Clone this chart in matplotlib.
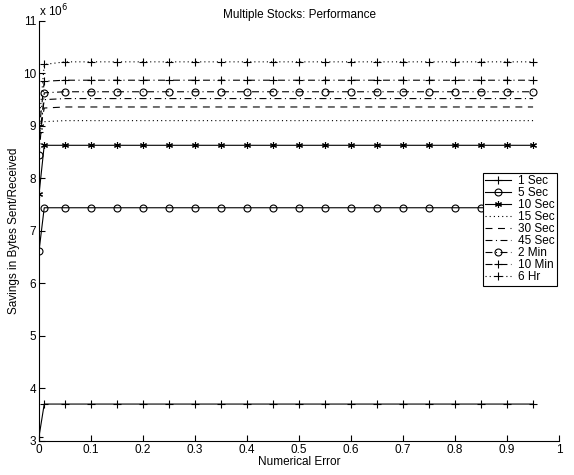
import matplotlib
matplotlib.use('Agg')
import matplotlib.pyplot as plt

plt.rcParams['font.family'] = ['Liberation Sans', 'DejaVu Sans']
plt.rcParams['lines.scale_dashes'] = False

# numerical error values (x axis)
errors = [0, 0.01, 0.05, 0.1, 0.15, 0.2, 0.25, 0.3, 0.35, 0.4, 0.45,
          0.5, 0.55, 0.6, 0.65, 0.7, 0.75, 0.8, 0.85, 0.9, 0.95]

labels = ['1 Sec', '5 Sec', '10 Sec', '15 Sec', '30 Sec', '45 Sec',
          '2 Min', '10 Min', '6 Hr']

# savings in bytes (x 10^6): value at 0, at 0.01, then the plateau
start = [3.08, 6.62, 7.70, 8.70, 8.80, 8.75, 8.45, 8.88, 9.02]
second = [3.70, 7.44, 8.63, 9.08, 9.34, 9.50, 9.63, 9.85, 10.17]
plateau = [3.70, 7.44, 8.63, 9.10, 9.36, 9.52, 9.65, 9.87, 10.22]

dotted = (0, (0.8, 2.2))
dashed = (0, (5, 4))
dashdot = (0, (5, 2.5, 0.8, 2.5))
styles = ['-', '-', '-', dotted, dashed, dashdot, dashdot, dashdot, dotted]
asterisk = (6, 2, 0)
markers = ['+', 'o', asterisk, None, None, None, 'o', '+', '+']
sizes = [6, 5, 5, 6, 6, 6, 5, 6, 6]

fs = 8.5

fig = plt.figure(figsize=(5.74, 4.75), dpi=100)
ax = fig.add_axes([0.068, 0.072, 0.906, 0.884])

for i in range(len(labels)):
    ys = [start[i], second[i]] + [plateau[i]] * (len(errors) - 2)
    ax.plot(errors, ys, color='black', linestyle=styles[i], marker=markers[i],
            markersize=sizes[i], markerfacecolor='none', markeredgecolor='black',
            linewidth=0.8, markeredgewidth=0.8, label=labels[i])

ax.set_xlim(0, 1)
ax.set_ylim(3, 11)
ax.set_xticks([0, 0.1, 0.2, 0.3, 0.4, 0.5, 0.6, 0.7, 0.8, 0.9, 1])
ax.set_xticklabels(['0', '0.1', '0.2', '0.3', '0.4', '0.5', '0.6', '0.7', '0.8', '0.9', '1'])
ax.set_yticks(range(3, 12))
ax.tick_params(direction='in', labelsize=fs, length=4, width=0.8, pad=2)
ax.spines['top'].set_visible(False)
ax.spines['right'].set_visible(False)
ax.spines['left'].set_linewidth(0.8)
ax.spines['bottom'].set_linewidth(0.8)

ax.set_xlabel('Numerical Error', fontsize=fs, labelpad=0)
ax.set_ylabel('Savings in Bytes Sent/Received', fontsize=fs, labelpad=2)
ax.set_title('Multiple Stocks: Performance', fontsize=fs, pad=2)
ax.text(0.0, 1.005, 'x 10$^6$', transform=ax.transAxes, fontsize=fs,
        ha='left', va='bottom')

leg = ax.legend(loc='upper right', bbox_to_anchor=(0.996, 0.638), fontsize=fs,
                fancybox=False, framealpha=1, edgecolor='black',
                handlelength=2.2, handletextpad=0.6, labelspacing=0.0,
                borderpad=0.2, borderaxespad=0)
leg.get_frame().set_linewidth(0.8)

fig.savefig('out.png', dpi=100)
